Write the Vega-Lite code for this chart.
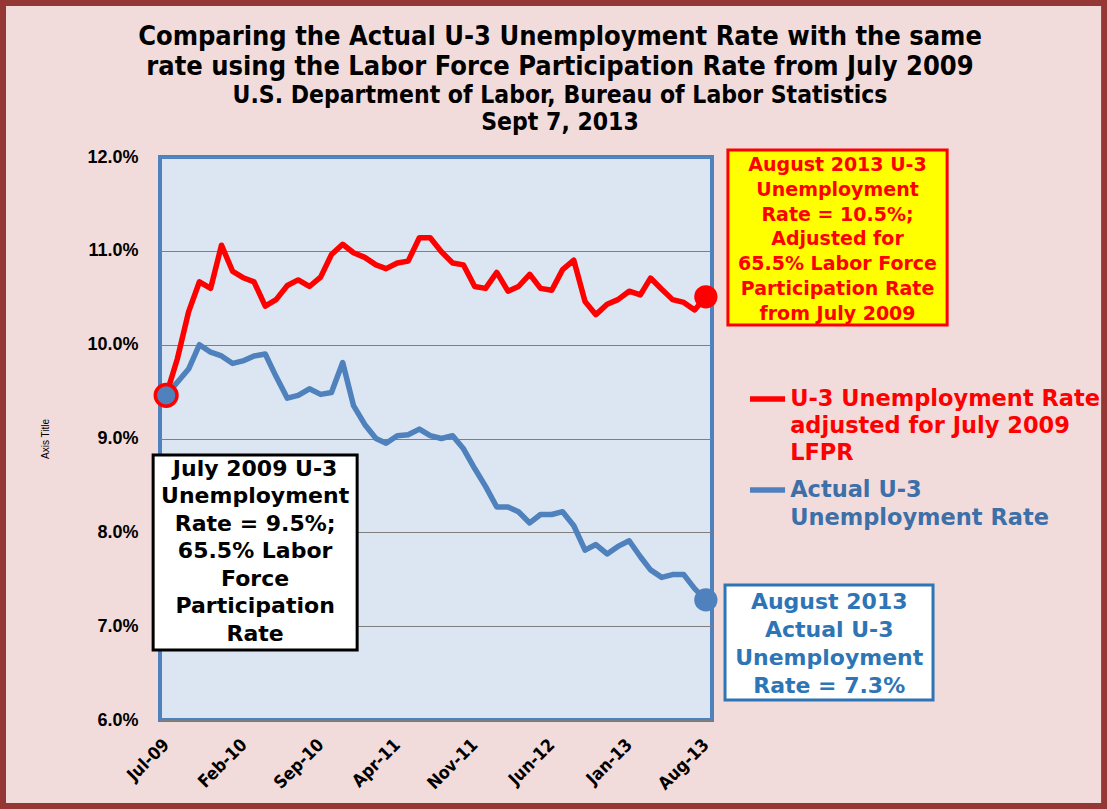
{
  "$schema": "https://vega.github.io/schema/vega-lite/v6.json",
  "width": 552,
  "height": 563,
  "autosize": "none",
  "padding": {"left": 160, "top": 157, "right": 395, "bottom": 89},
  "background": "#F2DCDB",
  "config": {
    "view": {"fill": "#DCE6F2", "stroke": "#4F81BD", "strokeWidth": 4}
  },
  "title": {
    "text": ["Comparing the Actual U-3 Unemployment Rate  with the same", "rate using the Labor Force Participation Rate from July 2009"],
    "subtitle": ["U.S. Department  of Labor, Bureau of Labor Statistics", "Sept 7, 2013"],
    "anchor": "middle",
    "frame": "group",
    "dx": 124,
    "dy": 135,
    "font": "DejaVu Sans Condensed, DejaVu Sans",
    "fontSize": 27,
    "fontWeight": "bold",
    "color": "#000000",
    "lineHeight": 30,
    "subtitleFont": "DejaVu Sans Condensed, DejaVu Sans",
    "subtitleFontSize": 24.5,
    "subtitleFontWeight": "bold",
    "subtitleColor": "#000000",
    "subtitleLineHeight": 27,
    "subtitlePadding": 3,
    "offset": 0
  },
  "datasets": {
    "rates": [
      {"month": "2009-07-01", "adjusted": 9.46, "actual": 9.46},
      {"month": "2009-08-01", "adjusted": 9.85, "actual": 9.6},
      {"month": "2009-09-01", "adjusted": 10.35, "actual": 9.74},
      {"month": "2009-10-01", "adjusted": 10.67, "actual": 10.0},
      {"month": "2009-11-01", "adjusted": 10.6, "actual": 9.92},
      {"month": "2009-12-01", "adjusted": 11.06, "actual": 9.88},
      {"month": "2010-01-01", "adjusted": 10.78, "actual": 9.8},
      {"month": "2010-02-01", "adjusted": 10.71, "actual": 9.83},
      {"month": "2010-03-01", "adjusted": 10.67, "actual": 9.88},
      {"month": "2010-04-01", "adjusted": 10.41, "actual": 9.9},
      {"month": "2010-05-01", "adjusted": 10.48, "actual": 9.66},
      {"month": "2010-06-01", "adjusted": 10.63, "actual": 9.43},
      {"month": "2010-07-01", "adjusted": 10.69, "actual": 9.46},
      {"month": "2010-08-01", "adjusted": 10.62, "actual": 9.53},
      {"month": "2010-09-01", "adjusted": 10.72, "actual": 9.47},
      {"month": "2010-10-01", "adjusted": 10.96, "actual": 9.49},
      {"month": "2010-11-01", "adjusted": 11.07, "actual": 9.81},
      {"month": "2010-12-01", "adjusted": 10.98, "actual": 9.35},
      {"month": "2011-01-01", "adjusted": 10.93, "actual": 9.15},
      {"month": "2011-02-01", "adjusted": 10.85, "actual": 9.0},
      {"month": "2011-03-01", "adjusted": 10.81, "actual": 8.95},
      {"month": "2011-04-01", "adjusted": 10.87, "actual": 9.03},
      {"month": "2011-05-01", "adjusted": 10.89, "actual": 9.04},
      {"month": "2011-06-01", "adjusted": 11.14, "actual": 9.1},
      {"month": "2011-07-01", "adjusted": 11.14, "actual": 9.03},
      {"month": "2011-08-01", "adjusted": 10.99, "actual": 9.0},
      {"month": "2011-09-01", "adjusted": 10.87, "actual": 9.03},
      {"month": "2011-10-01", "adjusted": 10.85, "actual": 8.89},
      {"month": "2011-11-01", "adjusted": 10.62, "actual": 8.68},
      {"month": "2011-12-01", "adjusted": 10.6, "actual": 8.49},
      {"month": "2012-01-01", "adjusted": 10.77, "actual": 8.27},
      {"month": "2012-02-01", "adjusted": 10.57, "actual": 8.27},
      {"month": "2012-03-01", "adjusted": 10.62, "actual": 8.22},
      {"month": "2012-04-01", "adjusted": 10.75, "actual": 8.1},
      {"month": "2012-05-01", "adjusted": 10.6, "actual": 8.19},
      {"month": "2012-06-01", "adjusted": 10.58, "actual": 8.19},
      {"month": "2012-07-01", "adjusted": 10.8, "actual": 8.22},
      {"month": "2012-08-01", "adjusted": 10.9, "actual": 8.07},
      {"month": "2012-09-01", "adjusted": 10.46, "actual": 7.81},
      {"month": "2012-10-01", "adjusted": 10.32, "actual": 7.87},
      {"month": "2012-11-01", "adjusted": 10.43, "actual": 7.77},
      {"month": "2012-12-01", "adjusted": 10.48, "actual": 7.85},
      {"month": "2013-01-01", "adjusted": 10.57, "actual": 7.91},
      {"month": "2013-02-01", "adjusted": 10.53, "actual": 7.74},
      {"month": "2013-03-01", "adjusted": 10.71, "actual": 7.6},
      {"month": "2013-04-01", "adjusted": 10.59, "actual": 7.52},
      {"month": "2013-05-01", "adjusted": 10.48, "actual": 7.55},
      {"month": "2013-06-01", "adjusted": 10.45, "actual": 7.55},
      {"month": "2013-07-01", "adjusted": 10.37, "actual": 7.4},
      {"month": "2013-08-01", "adjusted": 10.51, "actual": 7.28}
    ]
  },
  "layer": [
    {
      "data": {"values": [{"frame": "chart area"}]},
      "mark": {"type": "rect", "fillOpacity": 0, "stroke": "#953735", "strokeWidth": 6, "clip": false},
      "encoding": {
        "x": {"datum": {"year": 2008, "month": 4, "date": 6, "utc": true}, "type": "temporal"},
        "x2": {"datum": {"year": 2016, "month": 8, "date": 6, "utc": true}},
        "y": {"datum": 13.641, "type": "quantitative"},
        "y2": {"datum": 5.083}
      }
    },
    {
      "data": {"name": "rates"},
      "transform": [{"fold": ["adjusted", "actual"], "as": ["series", "rate"]}],
      "mark": {"type": "line", "strokeWidth": 5.5, "strokeJoin": "round", "strokeCap": "round"},
      "encoding": {
        "x": {
          "field": "month",
          "type": "temporal",
          "scale": {
            "type": "utc",
            "domain": [{"year": 2009, "month": 6, "date": 14, "utc": true}, {"year": 2013, "month": 8, "date": 18, "utc": true}]
          },
          "axis": {
            "title": null,
            "format": "%b-%y",
            "values": [
              {"year": 2009, "month": 7, "date": 1, "utc": true},
              {"year": 2010, "month": 2, "date": 1, "utc": true},
              {"year": 2010, "month": 9, "date": 1, "utc": true},
              {"year": 2011, "month": 4, "date": 1, "utc": true},
              {"year": 2011, "month": 11, "date": 1, "utc": true},
              {"year": 2012, "month": 6, "date": 1, "utc": true},
              {"year": 2013, "month": 1, "date": 1, "utc": true},
              {"year": 2013, "month": 8, "date": 1, "utc": true}
            ],
            "labelAngle": -45,
            "labelAlign": "right",
            "labelBaseline": "middle",
            "labelFont": "DejaVu Sans Condensed, Liberation Sans",
            "labelFontSize": 17.5,
            "labelFontWeight": "bold",
            "labelColor": "#000000",
            "labelPadding": 22,
            "labelOverlap": false,
            "labelFlush": false,
            "ticks": false,
            "tickSize": 0,
            "domain": false,
            "grid": false
          }
        },
        "y": {
          "field": "rate",
          "type": "quantitative",
          "scale": {"domain": [6, 12], "nice": false, "zero": false},
          "axis": {
            "title": "Axis Title",
            "titleFont": "Liberation Sans",
            "titleFontSize": 10,
            "titleFontWeight": "normal",
            "titleColor": "#000000",
            "titlePadding": 36,
            "values": [6, 7, 8, 9, 10, 11, 12],
            "labelExpr": "format(datum.value, '.1f') + '%'",
            "labelFont": "Liberation Sans",
            "labelFontSize": 18,
            "labelFontWeight": "bold",
            "labelColor": "#000000",
            "labelPadding": 22,
            "ticks": false,
            "tickSize": 0,
            "domain": false,
            "grid": true,
            "gridColor": "#7F7F7F",
            "gridWidth": 1
          }
        },
        "color": {
          "field": "series",
          "type": "nominal",
          "scale": {"domain": ["adjusted", "actual"], "range": ["#FF0000", "#4F81BD"]},
          "legend": null
        }
      }
    },
    {
      "data": {"name": "rates"},
      "transform": [
        {"filter": {"field": "month", "equal": {"year": 2013, "month": 8, "date": 1, "utc": true}}},
        {"fold": ["adjusted", "actual"], "as": ["series", "rate"]}
      ],
      "mark": {"type": "point", "filled": true, "opacity": 1, "size": 540, "shape": "circle"},
      "encoding": {
        "x": {"field": "month", "type": "temporal"},
        "y": {"field": "rate", "type": "quantitative"},
        "color": {"field": "series", "type": "nominal"}
      }
    },
    {
      "data": {"name": "rates"},
      "transform": [
        {"filter": {"field": "month", "equal": {"year": 2009, "month": 7, "date": 1, "utc": true}}}
      ],
      "mark": {"type": "point", "filled": true, "opacity": 1, "size": 470, "shape": "circle", "fill": "#4F81BD", "stroke": "#FF0000", "strokeWidth": 3.5},
      "encoding": {
        "x": {"field": "month", "type": "temporal"},
        "y": {"field": "actual", "type": "quantitative"}
      }
    },
    {
      "data": {"values": [{"label": "August 2013 U-3\nUnemployment\nRate = 10.5%;\nAdjusted for\n65.5% Labor Force\nParticipation Rate\nfrom July 2009"}]},
      "layer": [
        {
          "mark": {"type": "rect", "fill": "#FFFF00", "stroke": "#FF0000", "strokeWidth": 3, "clip": false},
          "encoding": {
            "x": {"datum": {"year": 2013, "month": 10, "date": 1, "utc": true}, "type": "temporal"},
            "x2": {"datum": {"year": 2015, "month": 5, "date": 30, "utc": true}},
            "y": {"datum": 12.075, "type": "quantitative"},
            "y2": {"datum": 10.21}
          }
        },
        {
          "mark": {"type": "text", "color": "#FF0000", "font": "DejaVu Sans", "fontWeight": "bold", "fontSize": 19, "lineBreak": "\n", "lineHeight": 24.8, "align": "center", "baseline": "middle", "clip": false},
          "encoding": {
            "x": {"datum": {"year": 2014, "month": 7, "date": 31, "utc": true}, "type": "temporal"},
            "y": {"datum": 11.915, "type": "quantitative"},
            "text": {"field": "label"}
          }
        }
      ]
    },
    {
      "data": {"values": [{"label": "July 2009 U-3\nUnemployment\nRate = 9.5%;\n65.5% Labor\nForce\nParticipation\nRate"}]},
      "layer": [
        {
          "mark": {"type": "rect", "fill": "#FFFFFF", "stroke": "#000000", "strokeWidth": 3, "clip": false},
          "encoding": {
            "x": {"datum": {"year": 2009, "month": 5, "date": 26, "utc": true}, "type": "temporal"},
            "x2": {"datum": {"year": 2010, "month": 12, "date": 11, "utc": true}},
            "y": {"datum": 8.824, "type": "quantitative"},
            "y2": {"datum": 6.746}
          }
        },
        {
          "mark": {"type": "text", "color": "#000000", "font": "DejaVu Sans", "fontWeight": "bold", "fontSize": 22, "lineBreak": "\n", "lineHeight": 27.5, "align": "center", "baseline": "middle", "clip": false},
          "encoding": {
            "x": {"datum": {"year": 2010, "month": 3, "date": 4, "utc": true}, "type": "temporal"},
            "y": {"datum": 8.675, "type": "quantitative"},
            "text": {"field": "label"}
          }
        }
      ]
    },
    {
      "data": {"values": [{"label": "August 2013\nActual U-3\nUnemployment\nRate = 7.3%"}]},
      "layer": [
        {
          "mark": {"type": "rect", "fill": "#FFFFFF", "stroke": "#2E75B6", "strokeWidth": 3, "clip": false},
          "encoding": {
            "x": {"datum": {"year": 2013, "month": 9, "date": 23, "utc": true}, "type": "temporal"},
            "x2": {"datum": {"year": 2015, "month": 4, "date": 21, "utc": true}},
            "y": {"datum": 7.439, "type": "quantitative"},
            "y2": {"datum": 6.213}
          }
        },
        {
          "mark": {"type": "text", "color": "#2E75B6", "font": "DejaVu Sans", "fontWeight": "bold", "fontSize": 22, "lineBreak": "\n", "lineHeight": 28, "align": "center", "baseline": "middle", "clip": false},
          "encoding": {
            "x": {"datum": {"year": 2014, "month": 7, "date": 8, "utc": true}, "type": "temporal"},
            "y": {"datum": 7.257, "type": "quantitative"},
            "text": {"field": "label"}
          }
        }
      ]
    },
    {
      "data": {"values": [{"label": "U-3 Unemployment Rate\nadjusted for July 2009\nLFPR"}]},
      "layer": [
        {
          "mark": {"type": "rule", "color": "#FF0000", "strokeWidth": 5.5, "clip": false},
          "encoding": {
            "x": {"datum": {"year": 2013, "month": 12, "date": 1, "utc": true}, "type": "temporal"},
            "x2": {"datum": {"year": 2014, "month": 3, "date": 8, "utc": true}},
            "y": {"datum": 9.421, "type": "quantitative"}
          }
        },
        {
          "mark": {"type": "text", "color": "#FF0000", "font": "DejaVu Sans", "fontWeight": "bold", "fontSize": 22.5, "lineBreak": "\n", "lineHeight": 27, "align": "left", "baseline": "middle", "clip": false},
          "encoding": {
            "x": {"datum": {"year": 2014, "month": 3, "date": 22, "utc": true}, "type": "temporal"},
            "y": {"datum": 9.421, "type": "quantitative"},
            "text": {"field": "label"}
          }
        }
      ]
    },
    {
      "data": {"values": [{"label": "Actual U-3\nUnemployment Rate"}]},
      "layer": [
        {
          "mark": {"type": "rule", "color": "#4F81BD", "strokeWidth": 5.5, "clip": false},
          "encoding": {
            "x": {"datum": {"year": 2013, "month": 12, "date": 1, "utc": true}, "type": "temporal"},
            "x2": {"datum": {"year": 2014, "month": 3, "date": 8, "utc": true}},
            "y": {"datum": 8.451, "type": "quantitative"}
          }
        },
        {
          "mark": {"type": "text", "color": "#3D6FA8", "font": "DejaVu Sans", "fontWeight": "bold", "fontSize": 22.5, "lineBreak": "\n", "lineHeight": 28, "align": "left", "baseline": "middle", "clip": false},
          "encoding": {
            "x": {"datum": {"year": 2014, "month": 3, "date": 22, "utc": true}, "type": "temporal"},
            "y": {"datum": 8.451, "type": "quantitative"},
            "text": {"field": "label"}
          }
        }
      ]
    }
  ]
}
